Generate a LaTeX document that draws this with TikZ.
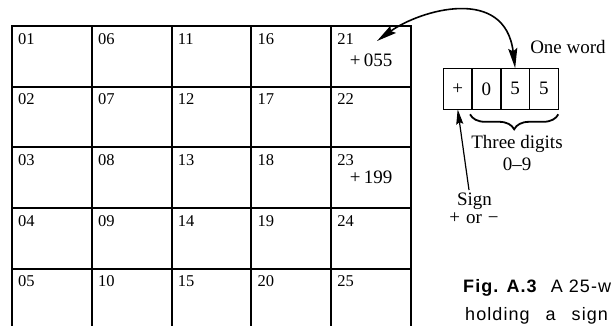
\documentclass[tikz,border=0pt]{standalone}
\usepackage{fontspec}
\setmainfont{Liberation Serif}
\newfontfamily\capfont[LetterSpace=6]{Liberation Sans}
\usetikzlibrary{arrows.meta,positioning,decorations.pathreplacing}

\tikzset{
  cellbox/.style={draw, line width=1.9pt, minimum width=79.8pt, minimum height=60.7pt,
    inner sep=0pt, outer sep=0pt, anchor=north west},
  cellnum/.style={font=\fontsize{16.5}{16.5}\selectfont, inner sep=0pt, anchor=north west},
  wordbox/.style={draw, line width=1.6pt, minimum width=28.75pt, minimum height=41pt,
    inner sep=0pt, outer sep=0pt, font=\fontsize{19}{19}\selectfont},
  bigtxt/.style={font=\fontsize{19}{22}\selectfont, inner sep=0pt, align=center},
  captxt/.style={font=\capfont\fontsize{18}{18}\selectfont, inner sep=0pt, anchor=base west}
}

\begin{document}
\begin{tikzpicture}[x=1pt, y=-1pt]
        \useasboundingbox (0,0) rectangle (611,325);
        \clip (0,0) rectangle (611,325);
        % the 25 memory cells
        \foreach \col in {0,...,4} {
            \foreach \row in {1,...,5} {
                \pgfmathtruncatemacro{\n}{5*\col+\row}
                \node[cellbox] (cell\n) at ({12+79.8*\col},{26+60.7*(\row-1)}) {};
                \node[cellnum] (num\n) at ([xshift=6pt,yshift=-7pt]cell\n.north west) {\ifnum\n<10 0\fi\n};
            }
        }
        \node[bigtxt] (val21) at ([yshift=-4pt]cell21.center) {+\,055};
        \node[bigtxt] (val23) at (cell23.center) {+\,199};
        % one word
        \node[wordbox, anchor=north west] (wsign) at (443.3,68.3) {+};
        \node[wordbox, right=0pt of wsign] (wd1) {0};
        \node[wordbox, right=0pt of wd1] (wd2) {5};
        \node[wordbox, right=0pt of wd2] (wd3) {5};
        \node[bigtxt, anchor=base] (wordlbl) at (568,53) {One word};
        \draw[decorate, decoration={brace, mirror, amplitude=15pt}, line width=1.8pt]
            ([xshift=-2pt,yshift=-5pt]wd1.south west) -- ([yshift=-5pt]wd3.south east);
        \node[bigtxt] (digitlbl) at (517,152.5) {Three digits\\0--9};
        \node[bigtxt, anchor=base] (signlbl) at (474.5,205) {Sign};
        \node[bigtxt, anchor=base] (signrange) at (474,223) {+\hspace{6pt}or\hspace{6pt}−};
        % arrows
        \coordinate (tip21) at (377,41);
        \coordinate (signtail) at (469,190);
        \draw[line width=1.6pt, {Stealth[length=20pt,width=9pt,inset=3pt]}-{Stealth[length=20pt,width=9pt,inset=3pt]}]
            (tip21) .. controls (420,10) and (505,-15) .. (wd2.north);
        \draw[line width=1.2pt, -{Stealth[length=15pt,width=7pt,inset=2pt]}] (signtail) -- (wsign.south);
        % caption, cut off at the edge
        \node[captxt] (cap1) at (463,292) {\textbf{Fig. A.3}\hspace{13pt}A 25-w};
        \node[captxt] (cap2) at (465,320) {holding\hspace{16pt}a\hspace{16pt}sign};
    \end{tikzpicture}
\end{document}
